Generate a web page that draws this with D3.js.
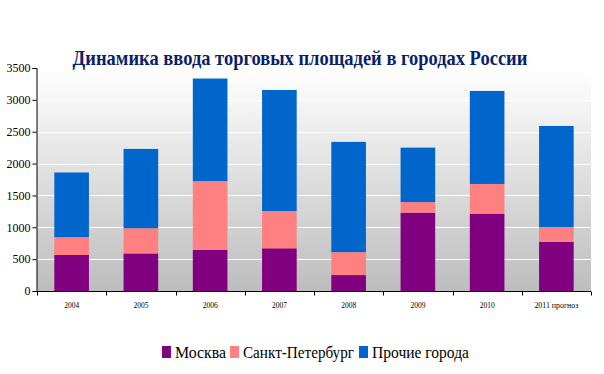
<!DOCTYPE html>
<html><head><meta charset="utf-8">
<script src="https://cdn.jsdelivr.net/npm/d3@7"></script>
<style>html,body{margin:0;padding:0;background:#fff}</style>
</head><body>
<svg id="c" width="604" height="374"></svg>
<script>
const categories = ["2004","2005","2006","2007","2008","2009","2010","2011 прогноз"];
const seriesNames = ["Москва","Санкт-Петербург","Прочие города"];
const moscow = [565, 590, 645, 670, 250, 1230, 1215, 770];
const spb = [280, 395, 1080, 585, 360, 165, 465, 235];
const others = [1015, 1245, 1610, 1900, 1730, 855, 1460, 1585];
const yTicks = [0, 500, 1000, 1500, 2000, 2500, 3000, 3500];
const colors = ["#800080", "#FF8080", "#0066CC"];
const title = "Динамика ввода торговых площадей в городах России";
const FONT = "'Liberation Serif', 'Times New Roman', serif";

const svg = d3.select("#c");
const m = {l: 37, r: 591, t: 68, b: 291};
const x = d3.scaleBand().domain(categories).range([m.l, m.r]).paddingInner(0.5).paddingOuter(0.25);
const y = d3.scaleLinear().domain([0, 3500]).range([m.b, m.t]);

const defs = svg.append("defs");
const g = defs.append("linearGradient").attr("id","bg").attr("x1",0).attr("y1",0).attr("x2",0).attr("y2",1);
g.append("stop").attr("offset","0%").attr("stop-color","#ffffff");
g.append("stop").attr("offset","100%").attr("stop-color","#bdbdbd");

svg.append("rect").attr("x", m.l).attr("y", m.t).attr("width", m.r - m.l).attr("height", m.b - m.t).attr("fill","url(#bg)");

svg.append("g").selectAll("line").data(yTicks.slice(1)).join("line")
  .attr("x1", m.l).attr("x2", m.r).attr("y1", d => Math.round(y(d))+0.5).attr("y2", d => Math.round(y(d))+0.5)
  .attr("stroke","#fff").attr("stroke-width",1);

const table = categories.map((c,i) => ({cat:c, "Москва":moscow[i], "Санкт-Петербург":spb[i], "Прочие города":others[i]}));
const stack = d3.stack().keys(seriesNames)(table);
svg.append("g").selectAll("g").data(stack).join("g").attr("fill",(d,i)=>colors[i])
  .selectAll("rect").data(d=>d).join("rect")
  .attr("x", d => x(d.data.cat)).attr("width", x.bandwidth())
  .attr("y", d => y(d[1])).attr("height", d => y(d[0]) - y(d[1]));

// y axis
const ya = svg.append("g").attr("transform", `translate(${m.l - 0.5},0)`)
  .call(d3.axisLeft(y).tickValues(yTicks).tickSize(4).tickPadding(2).tickFormat(d3.format("d")));
ya.select(".domain").attr("stroke","#000");
ya.selectAll("line").attr("stroke","#000");
ya.selectAll("text").attr("font-family",FONT).attr("font-size",12).attr("fill","#000")
  .attr("textLength",24).attr("lengthAdjust","spacingAndGlyphs");
ya.selectAll(".tick").filter(d=>d===0).select("text").attr("textLength",null);
ya.selectAll(".tick").filter(d=>d===500).select("text").attr("textLength",18);

// x axis
const xa = svg.append("g").attr("transform", `translate(0,${m.b + 0.5})`);
xa.append("line").attr("x1", m.l - 0.5).attr("x2", m.r).attr("stroke","#000");
const bounds = d3.range(categories.length + 1).map(i => m.l + i * (m.r - m.l) / categories.length);
xa.selectAll("line.t").data(bounds).join("line").attr("class","t")
  .attr("x1", d => Math.round(d)+0.5).attr("x2", d => Math.round(d)+0.5).attr("y1",0).attr("y2",4).attr("stroke","#000");
xa.selectAll("text").data(categories).join("text")
  .attr("x", d => x(d) + x.bandwidth()/2).attr("y", 16)
  .attr("text-anchor","middle").attr("font-family",FONT).attr("font-size",9).attr("fill","#000")
  .attr("textLength", d => d.length > 4 ? 44 : 15).attr("lengthAdjust","spacingAndGlyphs")
  .text(d => d);

// title (scaled horizontally to the reference width)
const tg = svg.append("g");
const tt = tg.append("text").attr("x", 0).attr("y", 0).attr("text-anchor","middle")
  .attr("font-family",FONT).attr("font-weight","bold").attr("font-size",22)
  .attr("fill","#0a1f6e").text(title);
const natW = tt.node().getComputedTextLength();
const sx = Math.min(1, 455 / natW);
tg.attr("transform", `translate(300,65) scale(${sx},1)`);

// legend
const legX = [162, 230, 359];
const legW = [51, 111, 97];
const lg = svg.append("g");
seriesNames.forEach((n,i) => {
  lg.append("rect").attr("x", legX[i]).attr("y", 346).attr("width", 9).attr("height", 12).attr("fill", colors[i]);
  lg.append("text").attr("x", legX[i] + 13).attr("y", 358)
    .attr("font-family",FONT).attr("font-size",16).attr("fill","#000")
    .attr("textLength", legW[i]).attr("lengthAdjust","spacingAndGlyphs").text(n);
});
</script>
</body></html>
